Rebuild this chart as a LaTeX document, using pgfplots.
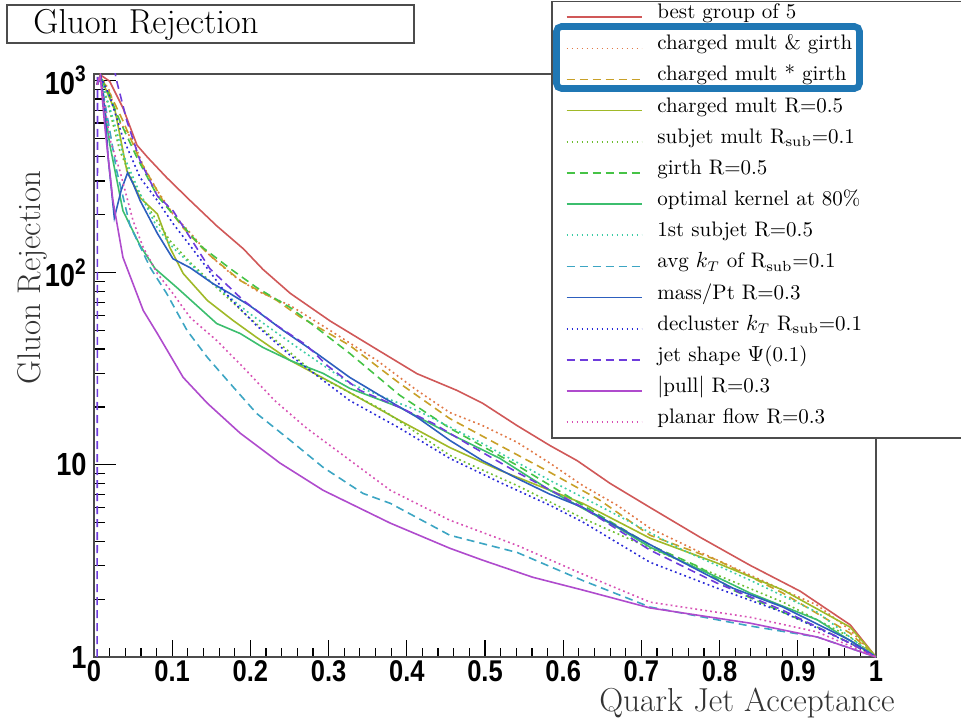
\documentclass[border=0pt]{standalone}
\usepackage{fontspec}
\usepackage{pgfplots}
\pgfplotsset{compat=1.18}
\newfontfamily\tickfont{Liberation Sans}[FakeStretch=0.85]
\definecolor{cbest}{RGB}{208,88,88}
\definecolor{corange}{RGB}{225,120,70}
\definecolor{cgold}{RGB}{200,160,40}
\definecolor{colive}{RGB}{160,185,40}
\definecolor{csubjet}{RGB}{110,190,50}
\definecolor{cgirth}{RGB}{70,195,70}
\definecolor{copt}{RGB}{60,190,110}
\definecolor{cfirst}{RGB}{60,205,165}
\definecolor{cavgkt}{RGB}{60,165,195}
\definecolor{cmass}{RGB}{45,95,190}
\definecolor{cdecl}{RGB}{40,40,215}
\definecolor{cjet}{RGB}{110,60,220}
\definecolor{cpull}{RGB}{175,75,205}
\definecolor{cplanar}{RGB}{215,80,180}
\definecolor{hilite}{RGB}{31,119,180}
\tikzset{
  solidc/.style={line width=0.8pt},
  dotc/.style={line width=0.8pt, dash pattern=on 0.9pt off 1.6pt},
  dashc/.style={line width=0.8pt, dash pattern=on 4pt off 2.5pt},
}
\begin{document}
\begin{tikzpicture}
\useasboundingbox (0pt,0pt) rectangle (480.5pt,358.5pt);
\begin{axis}[
  at={(47pt,30pt)}, anchor=south west,
  scale only axis, width=391pt, height=291.5pt,
  xmin=0, xmax=1, ymode=log, ymin=1, ymax=1080,
  axis line style={draw=black!70, line width=1pt},
  tick align=inside, xtick pos=bottom, ytick pos=left,
  major tick length=8.5pt, minor tick length=4.5pt,
  every tick/.style={black, line width=0.6pt},
  ytick style={/pgfplots/major tick length=11pt, /pgfplots/minor tick length=5.5pt},
  xtick={0,0.1,0.2,0.3,0.4,0.5,0.6,0.7,0.8,0.9,1},
  xticklabels={0,0.1,0.2,0.3,0.4,0.5,0.6,0.7,0.8,0.9,1},
  minor x tick num=4,
  ytick={1,10,100,1000},
  yticklabels={1,10,10\textsuperscript{2},10\textsuperscript{3}},
  xticklabel style={font=\tickfont\bfseries\fontsize{15}{15}\selectfont, anchor=north, inner sep=0pt, yshift=-1.5pt},
  yticklabel style={font=\tickfont\bfseries\fontsize{16}{16}\selectfont, anchor=east, inner sep=0pt, xshift=-3.5pt},
  /pgf/number format/assume math mode=true,
  clip=true,
  legend cell align=left,
  legend image code/.code={\draw[#1] (0pt,0pt) -- (37.5pt,0pt);},
  legend style={at={(0.5844,1.1256)}, anchor=north west, draw=black!70, line width=0.8pt, fill=white,
    inner xsep=7pt, inner ysep=0pt, font=\fontsize{10.5}{12}\selectfont,
    nodes={text height=6pt, text depth=4.58pt, inner ysep=2.5pt, inner xsep=2.5pt},
    column sep=5pt, row sep=0pt},
]
\addplot[cbest, solidc] coordinates {(0.004,950)(0.008,1070)(0.02,990)(0.037,720)(0.055,460)(0.069,396)(0.093,312)(0.123,237)(0.157,175)(0.191,133)(0.216,104)(0.251,78)(0.302,56)(0.362,39.8)(0.413,29.8)(0.464,24.4)(0.497,20.9)(0.541,16)(0.583,12.6)(0.618,10.5)(0.66,8.0)(0.711,6.0)(0.775,4.2)(0.839,3.0)(0.903,2.2)(0.967,1.47)(1,1)};
\addlegendentry{\makebox[160pt][l]{best group of 5}}
\addplot[corange, dotc] coordinates {(0.004,950)(0.008,1055)(0.020,882)(0.029,638)(0.050,485)(0.063,359)(0.081,267)(0.101,202)(0.123,161)(0.148,123)(0.178,96.5)(0.208,80.6)(0.251,67.4)(0.302,50)(0.362,34.9)(0.413,24.4)(0.455,18.7)(0.497,16.0)(0.541,13.1)(0.583,10.2)(0.625,7.8)(0.669,6.16)(0.711,4.68)(0.775,3.51)(0.839,2.67)(0.881,2.23)(0.925,1.86)(0.967,1.38)(1,1)};
\addlegendentry{charged mult \& girth}
\addplot[cgold, dashc] coordinates {(0.004,950)(0.008,1055)(0.020,861)(0.037,616)(0.059,382)(0.088,237)(0.114,171)(0.145,126)(0.187,90.9)(0.234,71.6)(0.263,59)(0.327,41.8)(0.391,26.5)(0.455,17.4)(0.519,12.6)(0.583,9.14)(0.647,6.54)(0.711,4.3)(0.797,3.19)(0.881,2.15)(0.967,1.33)(1,1)};
\addlegendentry{charged mult * girth}
\addplot[colive, solidc] coordinates {(0.004,950)(0.008,1050)(0.015,900)(0.027,695)(0.042,339)(0.059,245)(0.081,202)(0.097,135)(0.114,99)(0.145,71.6)(0.178,56.3)(0.208,46)(0.251,34.9)(0.315,25.3)(0.391,17.0)(0.455,12.3)(0.519,9.36)(0.583,7.37)(0.625,6.3)(0.711,4.15)(0.797,3.08)(0.881,2.23)(0.967,1.43)(1,1)};
\addlegendentry{charged mult R=0.5}
\addplot[csubjet, dotc] coordinates {(0.004,950)(0.008,1055)(0.020,695)(0.033,430)(0.052,283)(0.072,210)(0.097,147)(0.123,113)(0.161,80.6)(0.199,58)(0.285,29.2)(0.370,19.2)(0.455,11.2)(0.541,7.8)(0.625,5.27)(0.711,3.68)(0.797,2.67)(0.881,1.93)(0.967,1.27)(1,1)};
\addlegendentry{subjet mult R$_{\mathrm{sub}}$=0.1}
\addplot[cgirth, dashc] coordinates {(0.004,950)(0.008,1055)(0.020,830)(0.033,616)(0.055,396)(0.081,251)(0.110,182)(0.136,138)(0.174,105)(0.208,83.6)(0.251,65.8)(0.327,38)(0.391,23)(0.455,15.5)(0.541,9.94)(0.625,6.16)(0.711,3.82)(0.775,2.93)(0.817,2.23)(0.881,1.71)(0.925,1.43)(0.967,1.18)(1,1)};
\addlegendentry{girth R=0.5}
\addplot[copt, solidc] coordinates {(0.004,950)(0.008,1055)(0.020,468)(0.037,210)(0.059,138)(0.078,105)(0.106,83.6)(0.157,54.3)(0.187,48.2)(0.216,40.8)(0.251,34.9)(0.293,29.9)(0.327,25)(0.391,19.9)(0.455,14.5)(0.519,10.8)(0.583,7.37)(0.669,4.73)(0.711,3.73)(0.797,2.6)(0.839,2.15)(0.925,1.56)(1,1)};
\addlegendentry{optimal kernel at 80\%}
\addplot[cfirst, dotc] coordinates {(0.004,950)(0.008,1055)(0.024,638)(0.037,415)(0.059,257)(0.081,171)(0.101,135)(0.136,99)(0.199,61.2)(0.263,40)(0.327,26.5)(0.413,19.2)(0.497,12.9)(0.583,8.3)(0.669,5.47)(0.753,3.6)(0.839,2.51)(0.925,1.71)(1,1)};
\addlegendentry{1st subjet R=0.5}
\addplot[cavgkt, dashc] coordinates {(0.004,950)(0.008,1055)(0.018,616)(0.029,339)(0.046,176)(0.072,106)(0.093,77.8)(0.119,50)(0.145,36.2)(0.174,26.5)(0.208,18.5)(0.251,13.4)(0.293,9.7)(0.344,7.1)(0.379,6.3)(0.455,4.3)(0.541,3.5)(0.625,2.5)(0.711,1.82)(0.839,1.45)(0.925,1.27)(1,1)};
\addlegendentry{avg $k_T$ of R$_{\mathrm{sub}}$=0.1}
\addplot[cmass, solidc] coordinates {(0.004,950)(0.009,1040)(0.014,700)(0.018,400)(0.026,193)(0.035,270)(0.043,331)(0.050,290)(0.059,237)(0.081,160)(0.101,118)(0.123,106)(0.152,87.7)(0.174,77.8)(0.199,67.4)(0.242,50)(0.285,37.9)(0.327,28.5)(0.370,22.4)(0.413,17.7)(0.455,13.4)(0.497,10.5)(0.541,8.5)(0.583,7.03)(0.625,6.0)(0.689,4.3)(0.753,3.11)(0.817,2.28)(0.881,1.82)(0.967,1.22)(1,1)};
\addlegendentry{mass/Pt R=0.3}
\addplot[cdecl, dotc] coordinates {(0.004,950)(0.008,1055)(0.020,830)(0.037,503)(0.059,312)(0.081,237)(0.101,180)(0.123,138)(0.145,105)(0.174,73.3)(0.208,53)(0.251,37.1)(0.293,27.5)(0.327,21.6)(0.391,15.5)(0.455,10.8)(0.519,8.1)(0.583,6.16)(0.625,5.04)(0.711,3.11)(0.797,2.28)(0.881,1.71)(0.967,1.18)(1,1)};
\addlegendentry{decluster $k_T$ R$_{\mathrm{sub}}$=0.1}
\addplot[cjet, dashc] coordinates {(0.004,1)(0.0045,1200)(0.025,1200)(0.029,994)(0.042,616)(0.059,382)(0.081,251)(0.101,210)(0.123,152)(0.148,105)(0.191,71.6)(0.234,53)(0.272,41.8)(0.298,32.9)(0.340,24.4)(0.391,19.9)(0.434,16.4)(0.477,12.9)(0.541,9.14)(0.625,6.0)(0.711,3.6)(0.797,2.42)(0.881,1.75)(0.967,1.18)(1,1)};
\addlegendentry{jet shape $\Psi$(0.1)}
\addplot[cpull, solidc] coordinates {(0.004,950)(0.008,1055)(0.014,567)(0.024,240)(0.037,120)(0.063,63.5)(0.081,48.2)(0.114,28.5)(0.145,20.9)(0.187,14.6)(0.238,10.2)(0.293,7.37)(0.379,4.97)(0.455,3.68)(0.497,3.19)(0.561,2.6)(0.625,2.23)(0.711,1.8)(0.839,1.5)(0.925,1.27)(1,1)};
\addlegendentry{$|$pull$|$ R=0.3}
\addplot[cplanar, dotc] coordinates {(0.004,950)(0.008,1055)(0.02,500)(0.033,339)(0.05,186)(0.063,135)(0.081,99)(0.101,77.8)(0.123,58.4)(0.157,44.3)(0.191,32.1)(0.231,21.6)(0.272,15.5)(0.315,11.5)(0.379,7.37)(0.455,5.15)(0.541,3.81)(0.625,2.7)(0.711,1.93)(0.839,1.61)(0.925,1.35)(1,1)};
\addlegendentry{planar flow R=0.3}
\end{axis}
% title box
\draw[draw=black!70, line width=0.8pt, fill=white] (3.5pt,337pt) rectangle (207pt,356pt);
\node[anchor=base west, inner sep=0pt, font=\fontsize{17.3}{20}\selectfont] at (16.5pt,341.5pt) {Gluon Rejection};
% axis titles
\node[rotate=90, anchor=base west, inner sep=0pt, font=\fontsize{16.4}{19}\selectfont, text=black!80] at (20pt,166pt) {Gluon Rejection};
\node[anchor=base east, inner sep=0pt, font=\fontsize{16.6}{20}\selectfont, text=black!80] at (447.5pt,3pt) {Quark Jet Acceptance};
% highlight
\draw[hilite, line width=3.3pt, rounded corners=2.5pt] (278.25pt,314.25pt) rectangle (429.75pt,345.25pt);
\end{tikzpicture}
\end{document}
